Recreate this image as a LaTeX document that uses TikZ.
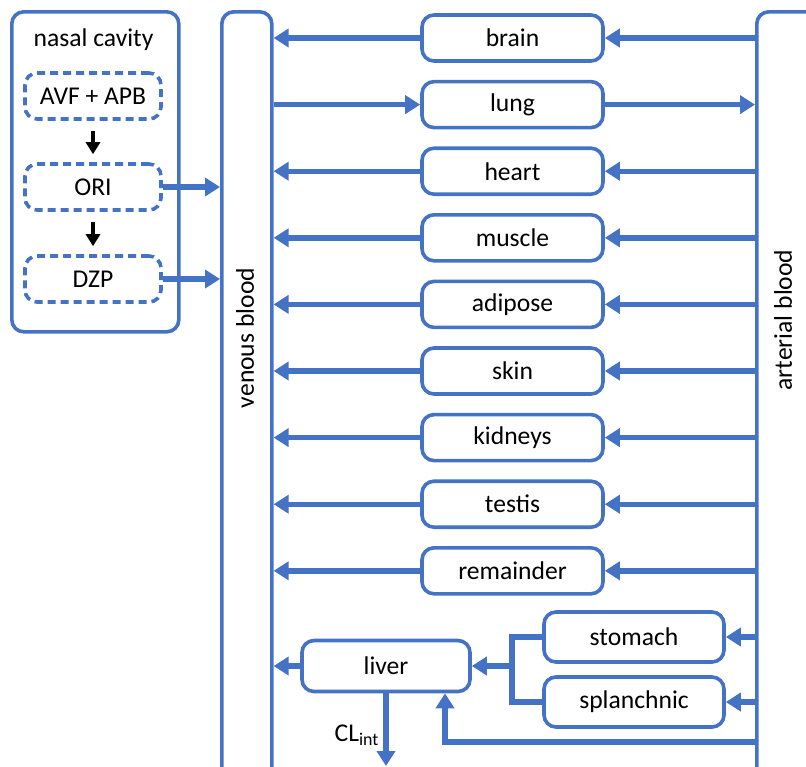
\documentclass[tikz,border=0pt]{standalone}
\usepackage{fontspec}
\setmainfont{Carlito}
\usetikzlibrary{arrows.meta, positioning}
\definecolor{pkblue}{RGB}{68,114,196}

\tikzset{
  box/.style={draw=pkblue, line width=1.8pt, rounded corners=6pt, inner sep=0pt},
  organ/.style={box, minimum width=90.5pt, minimum height=23pt},
  dose/.style={box, dash pattern=on 4pt off 2.5pt, minimum width=68pt, minimum height=23pt},
  flow/.style={draw=pkblue, line width=2.7pt, -{Triangle[length=7.5pt,width=9pt]}},
  react/.style={line width=1.7pt, -{Triangle[length=6pt,width=7pt]}, shorten <=5pt, shorten >=4pt},
}

\begin{document}
\begin{tikzpicture}[x=0.5pt, y=-0.5pt, font=\fontsize{12.8}{15}\selectfont]
\useasboundingbox (0,0) rectangle (806,766);
\clip (0,0) rectangle (806,766);

% nasal cavity
\node[box, minimum width=83.5pt, minimum height=160pt, anchor=north west] (nasal) at (10,10) {};
\node (nasaltitle) at (93.5,40) {nasal cavity};
\node[dose] (avf) at (93,96) {AVF + APB};
\node[dose] (ori) at (93,187) {ORI};
\node[dose] (dzp) at (93,279) {DZP};
\draw[react] (avf) -- (ori);
\draw[react] (ori) -- (dzp);

% blood pools
\node[box, minimum width=25pt, minimum height=400pt, anchor=north west] (venous) at (220,10) {};
\node[rotate=90] (venouslabel) at (245,338) {venous blood};
\node[box, minimum width=40pt, minimum height=400pt, anchor=north west] (arterial) at (755,10) {};
\node[rotate=90] (arteriallabel) at (783,320) {arterial blood};

\draw[flow, line width=3pt] (ori.east) -- (ori.east -| venous.west);
\draw[flow, line width=3pt] (dzp.east) -- (dzp.east -| venous.west);

% tissues
\foreach \organ [count=\i from 0] in {brain,lung,heart,muscle,adipose,skin,kidneys,testis,remainder}
  \node[organ] (\organ) at (512.5,{38+66.6*\i}) {\organ};
\foreach \organ in {brain,heart,muscle,adipose,skin,kidneys,testis,remainder} {
  \draw[flow] (\organ.east -| arterial.west) -- (\organ.east);
  \draw[flow] (\organ.west) -- (\organ.west -| venous.east);
}
\draw[flow] (lung.west -| venous.east) -- (lung.west);
\draw[flow] (lung.east) -- (lung.east -| arterial.west);

% liver and portal organs
\node[box, minimum width=90pt, minimum height=25pt] (stomach) at (634,637) {stomach};
\node[box, minimum width=90pt, minimum height=25pt] (splanchnic) at (634,702) {splanchnic};
\node[box, minimum width=84pt, minimum height=25.5pt] (liver) at (386,666) {liver};
\coordinate (portal) at (512,666);
\coordinate (hepatic) at (445,742);
\coordinate (clout) at (386,766);

\draw[flow] (stomach.east -| arterial.west) -- (stomach.east);
\draw[flow] (splanchnic.east -| arterial.west) -- (splanchnic.east);
\draw[pkblue, line width=2.7pt] (stomach.west) -| (portal) |- (splanchnic.west);
\draw[flow] (portal) -- (liver.east);
\draw[flow] (liver.west) -- (liver.west -| venous.east);
\draw[flow] (hepatic -| arterial.west) -- (hepatic) -- (hepatic |- liver.south);
\draw[flow] (liver.south) -- (clout);
\node (clint) at (357,735) {CL\textsubscript{int}};
\end{tikzpicture}
\end{document}
